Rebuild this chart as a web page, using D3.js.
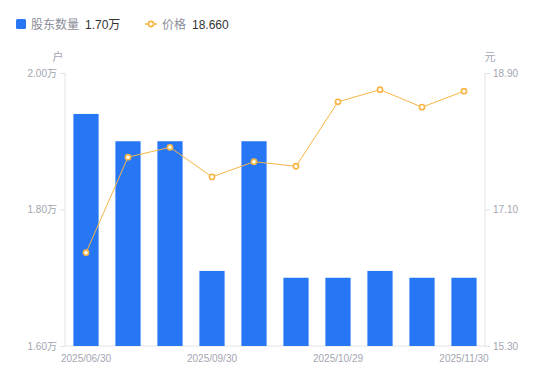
<!DOCTYPE html>
<html><head><meta charset="utf-8">
<script src="https://cdn.jsdelivr.net/npm/d3@7/dist/d3.min.js"></script>
<style>body{margin:0;background:#fff}svg{display:block;font-family:"Liberation Sans","Noto Sans CJK SC",sans-serif}</style>
</head><body><svg id="c" width="550" height="381"></svg>
<script>
const dates = ["2025/06/30","2025/07/31","2025/08/31","2025/09/30","2025/10/10","2025/10/20","2025/10/29","2025/11/10","2025/11/20","2025/11/30"];
const holders = [1.94,1.90,1.90,1.71,1.90,1.70,1.70,1.71,1.70,1.70];
const prices = [16.53,17.79,17.92,17.53,17.73,17.67,18.52,18.68,18.45,18.66];
const leftTicks = [1.60,1.80,2.00];
const rightTicks = [15.30,17.10,18.90];
const xLabelIdx = [0,3,6,9];

const svg = d3.select("#c");
const L=65,R=485,T=73,B=346;
const barColor="#2777f5", lineColor="#f8b545", axisColor="#e3e3e6", labColor="#a3a5b1";
const x = d3.scaleBand().domain(dates).range([L,R]).paddingInner(0.4).paddingOuter(0.2);
const yL = d3.scaleLinear().domain([1.6,2.0]).range([B,T]);
const yR = d3.scaleLinear().domain([15.3,18.9]).range([B,T]);

// axes
const gl = svg.append("g").attr("transform",`translate(${L},0)`)
  .call(d3.axisLeft(yL).tickValues(leftTicks).tickSize(5).tickPadding(3).tickFormat(d=>d.toFixed(2)+"万"));
const gr = svg.append("g").attr("transform",`translate(${R},0)`)
  .call(d3.axisRight(yR).tickValues(rightTicks).tickSize(5).tickPadding(3).tickFormat(d=>d.toFixed(2)));
const gb = svg.append("g").attr("transform",`translate(0,${B})`)
  .call(d3.axisBottom(x).tickValues(xLabelIdx.map(i=>dates[i])).tickSize(0).tickPadding(9));
[gl,gr,gb].forEach(g=>{
  g.selectAll("path.domain").attr("stroke",axisColor);
  g.selectAll("line").attr("stroke",axisColor);
  g.selectAll("text").attr("fill",labColor).style("font-size","10px").style("font-family","'Liberation Sans','Noto Sans CJK SC',sans-serif");
});
gl.select("path.domain").attr("d",`M0,${T}V${B}`);
gr.select("path.domain").attr("d",`M0,${T}V${B}`);
gb.select("path.domain").attr("d",`M${L},0H${R}`);

// units
svg.append("text").attr("x",58).attr("y",61).attr("text-anchor","middle").attr("fill",labColor).style("font-size","11px").style("font-family","'Noto Sans CJK SC',sans-serif").text("户");
svg.append("text").attr("x",490).attr("y",61).attr("text-anchor","middle").attr("fill",labColor).style("font-size","11px").style("font-family","'Noto Sans CJK SC',sans-serif").text("元");

// bars
svg.append("g").selectAll("rect").data(holders).join("rect")
  .attr("x",(d,i)=>x(dates[i])).attr("width",x.bandwidth())
  .attr("y",d=>yL(d)).attr("height",d=>B-yL(d)).attr("fill",barColor);

// line
const line = d3.line().x((d,i)=>x(dates[i])+x.bandwidth()/2).y(d=>yR(d));
svg.append("path").datum(prices).attr("d",line).attr("fill","none").attr("stroke",lineColor).attr("stroke-width",1);
svg.append("g").selectAll("circle").data(prices).join("circle")
  .attr("cx",(d,i)=>x(dates[i])+x.bandwidth()/2).attr("cy",d=>yR(d)).attr("r",2.6)
  .attr("fill","#fff").attr("stroke",lineColor).attr("stroke-width",1.6);

// legend
const lg = svg.append("g").style("font-size","12px");
lg.append("rect").attr("x",16).attr("y",19).attr("width",10).attr("height",10).attr("rx",1.5).attr("fill",barColor);
lg.append("text").attr("x",31).attr("y",29).attr("fill","#8c8e99").style("font-family","'Noto Sans CJK SC',sans-serif").text("股东数量");
lg.append("text").attr("x",85).attr("y",29).attr("fill","#333").text(holders[holders.length-1].toFixed(2)+"万");
lg.append("line").attr("x1",145).attr("x2",157).attr("y1",24).attr("y2",24).attr("stroke",lineColor).attr("stroke-width",1.5);
lg.append("circle").attr("cx",151).attr("cy",24).attr("r",2.6).attr("fill","#fff").attr("stroke",lineColor).attr("stroke-width",1.6);
lg.append("text").attr("x",162).attr("y",29).attr("fill","#8c8e99").style("font-family","'Noto Sans CJK SC',sans-serif").text("价格");
lg.append("text").attr("x",192).attr("y",29).attr("fill","#333").text(prices[prices.length-1].toFixed(3));
</script></body></html>
